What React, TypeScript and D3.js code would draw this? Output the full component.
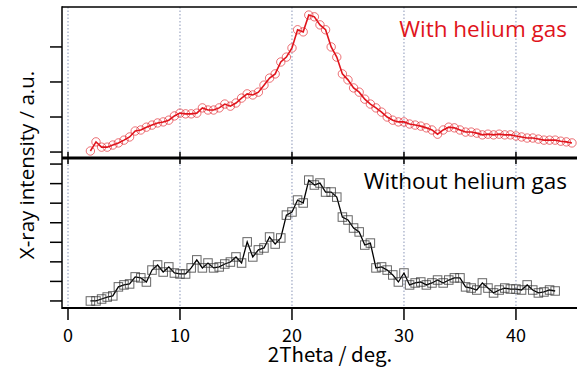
import React from "react";
import * as d3 from "d3";

// 2Theta positions (deg.)
const thetaTop: number[] = d3.range(2, 45.01, 0.5);
const thetaBottom: number[] = d3.range(2, 43.51, 0.5);

// With helium gas (arb. units)
const withHelium: number[] = [
  3, 29, 14, 14, 20, 26, 34, 43, 60, 63, 71, 77, 83, 86, 91, 103, 111, 109, 109, 111,
  126, 120, 120, 126, 137, 131, 140, 154, 166, 163, 171, 191, 211, 223, 257, 271, 297, 349, 343, 391,
  386, 363, 349, 300, 271, 223, 206, 183, 171, 151, 137, 126, 114, 100, 91, 86, 86, 80, 77, 74,
  69, 63, 51, 63, 71, 69, 63, 57, 57, 54, 49, 51, 49, 51, 49, 49, 46, 43, 40, 40,
  37, 34, 34, 34, 31, 29, 26,
];

// Without helium gas (arb. units)
const withoutHelium: number[] = [
  0, 0, 10, 20, 26, 72, 82, 87, 123, 118, 97, 158, 184, 148, 174, 143, 138, 138, 169, 210,
  169, 194, 169, 174, 189, 199, 225, 194, 302, 225, 261, 271, 327, 291, 322, 439, 455, 516, 501, 618,
  593, 603, 557, 557, 531, 429, 414, 373, 353, 286, 296, 169, 174, 158, 133, 97, 143, 82, 92, 97,
  82, 92, 107, 92, 107, 118, 118, 72, 66, 56, 92, 66, 41, 56, 66, 61, 61, 56, 82, 56,
  41, 46, 56, 51,
];

const xTicks: number[] = [0, 10, 20, 30, 40];
const topYTicks: number[] = [0, 100, 200, 300];
const bottomYTicks: number[] = [0, 100, 200, 300, 400, 500, 600, 700];

const W = 577;
const H = 367;
const LEFT = 62;
const TOP = 7;
const MID = 158;
const BOTTOM = 308;

export default function App() {
  const x = d3.scaleLinear().domain([0, 45.45]).range([68, 577]);
  const yTop = d3.scaleLinear().domain([-17, 414]).range([MID, TOP]);
  const yBot = d3.scaleLinear().domain([-36, 731]).range([BOTTOM, MID]);

  const topPts = thetaTop.map((t, i) => [t, withHelium[i]] as [number, number]);
  const botPts = thetaBottom.map((t, i) => [t, withoutHelium[i]] as [number, number]);

  const lineTop = d3
    .line<[number, number]>()
    .x((d) => x(d[0]))
    .y((d) => yTop(d[1]));
  const lineBot = d3
    .line<[number, number]>()
    .x((d) => x(d[0]))
    .y((d) => yBot(d[1]));

  const red = "#e0141c";
  const sq = 8.5;
  const cjk = "'Noto Sans CJK JP', 'DejaVu Sans', sans-serif";
  const latin = "'Open Sans', 'Noto Sans', sans-serif";

  return (
    <svg
      width={W}
      height={H}
      style={{ position: "absolute", left: 0, top: 0, background: "#fff" }}
    >
      <rect x={0} y={0} width={W} height={H} fill="#fff" />
      {/* dotted grid */}
      {xTicks.map((t) => (
        <line
          key={"g" + t}
          x1={x(t)}
          x2={x(t)}
          y1={TOP}
          y2={BOTTOM}
          stroke="#8a96b8"
          strokeWidth={1}
          strokeDasharray="1.5,2"
        />
      ))}

      {/* top series */}
      <path d={lineTop(topPts) || ""} fill="none" stroke={red} strokeWidth={1.6} />
      {topPts.map((d, i) => (
        <circle
          key={"c" + i}
          cx={x(d[0])}
          cy={yTop(d[1])}
          r={4.2}
          fill="none"
          stroke={red}
          strokeOpacity={0.6}
          strokeWidth={1}
        />
      ))}

      {/* bottom series */}
      <path d={lineBot(botPts) || ""} fill="none" stroke="#000" strokeWidth={1.3} />
      {botPts.map((d, i) => (
        <rect
          key={"s" + i}
          x={x(d[0]) - sq / 2}
          y={yBot(d[1]) - sq / 2}
          width={sq}
          height={sq}
          fill="none"
          stroke="#333"
          strokeOpacity={0.75}
          strokeWidth={1}
        />
      ))}

      {/* frame */}
      <line x1={LEFT} x2={W} y1={TOP} y2={TOP} stroke="#000" strokeWidth={1.5} />
      <line x1={LEFT} x2={LEFT} y1={TOP - 0.75} y2={BOTTOM + 1} stroke="#000" strokeWidth={1.5} />
      <line x1={LEFT} x2={W} y1={MID} y2={MID} stroke="#000" strokeWidth={3} />
      <line x1={LEFT} x2={W} y1={BOTTOM} y2={BOTTOM} stroke="#000" strokeWidth={2} />

      {/* x ticks */}
      {xTicks.map((t) => (
        <g key={"xt" + t}>
          <line x1={x(t)} x2={x(t)} y1={152} y2={164} stroke="#000" strokeWidth={1.5} />
          <line x1={x(t)} x2={x(t)} y1={BOTTOM} y2={320} stroke="#000" strokeWidth={1.5} />
          <text x={x(t)} y={342} textAnchor="middle" fontFamily={cjk} fontSize={18} fill="#000">
            {t}
          </text>
        </g>
      ))}

      {/* y ticks */}
      {topYTicks.map((t) => (
        <line key={"yt" + t} x1={50} x2={LEFT} y1={yTop(t)} y2={yTop(t)} stroke="#000" strokeWidth={1.5} />
      ))}
      {bottomYTicks.map((t) => (
        <line key={"yb" + t} x1={50} x2={LEFT} y1={yBot(t)} y2={yBot(t)} stroke="#000" strokeWidth={1.5} />
      ))}

      {/* labels */}
      <text x={567} y={37} textAnchor="end" fontFamily={latin} fontSize={22.5} fill={red}>
        With helium gas
      </text>
      <text x={567} y={189} textAnchor="end" fontFamily={latin} fontSize={22.5} fill="#000">
        Without helium gas
      </text>
      <text x={330} y={362} textAnchor="middle" fontFamily={cjk} fontSize={20.5} fill="#000">
        2Theta / deg.
      </text>
      <text
        transform="translate(34,165) rotate(-90)"
        textAnchor="middle"
        fontFamily={latin}
        fontSize={20.5}
        fill="#000"
      >
        X-ray intensity / a.u.
      </text>
    </svg>
  );
}
